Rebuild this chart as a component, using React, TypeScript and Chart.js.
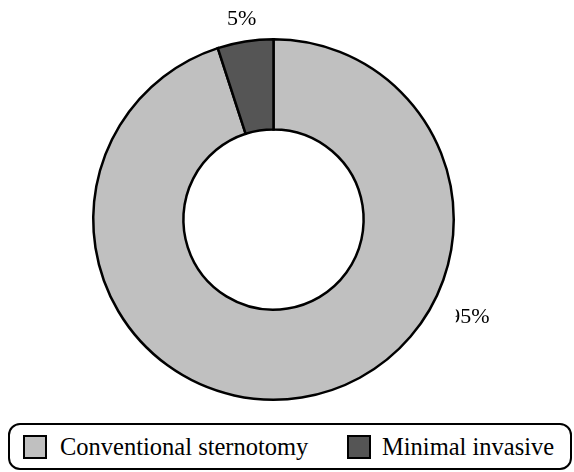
import React, { useEffect, useRef } from "react";
import { Chart, registerables } from "chart.js";

Chart.register(...registerables);

const categories = ["Conventional sternotomy", "Minimal invasive"];
const values = [95, 5];
const percentLabels = ["95%", "5%"];
const colors = ["#c0c0c0", "#555555"];

const FONT = "'Liberation Serif', 'DejaVu Serif'";

const labelPlugin = {
  id: "pctLabels",
  afterDatasetsDraw(chart: any) {
    const meta = chart.getDatasetMeta(0);
    const ctx = chart.ctx;
    const total = values.reduce((a, b) => a + b, 0);
    ctx.save();
    ctx.font = `22px ${FONT}`;
    ctx.fillStyle = "#000";
    ctx.textAlign = "center";
    ctx.textBaseline = "middle";
    meta.data.forEach((arc: any, i: number) => {
      const p = arc.getProps(["x", "y", "startAngle", "endAngle", "outerRadius"], true);
      const frac = values[i] / total;
      let angle: number;
      let r: number;
      ctx.save();
      if (frac > 0.5) {
        angle = -Math.PI / 2 + (116.4 * Math.PI) / 180;
        r = p.outerRadius + 38.5;
        ctx.beginPath();
        ctx.rect(p.x + p.outerRadius + 2, 0, chart.width, chart.height);
        ctx.clip();
      } else {
        angle = (p.startAngle + p.endAngle) / 2;
        r = p.outerRadius + 23;
      }
      ctx.fillText(percentLabels[i], p.x + Math.cos(angle) * r, p.y + Math.sin(angle) * r);
      ctx.restore();
    });
    ctx.restore();
  },
};

export default function App() {
  const ref = useRef<HTMLCanvasElement>(null);
  useEffect(() => {
    document.body.style.margin = "0";
    const chart = new Chart(ref.current!, {
      type: "doughnut",
      data: {
        labels: categories,
        datasets: [
          {
            data: values,
            backgroundColor: colors,
            borderColor: "#000",
            borderWidth: 2.5,
            borderJoinStyle: "miter",
          } as any,
        ],
      },
      options: {
        animation: false,
        responsive: false,
        cutout: "50%",
        layout: { padding: { top: 38, bottom: 19, left: 0, right: 27 } },
        plugins: { legend: { display: false }, tooltip: { enabled: false } },
      },
      plugins: [labelPlugin],
    });
    return () => chart.destroy();
  }, []);

  return (
    <div style={{ position: "relative", width: 574, height: 472, background: "#fff", fontFamily: FONT }}>
      <canvas ref={ref} width={574} height={420} style={{ display: "block" }} />
      <div
        style={{
          position: "absolute",
          left: 8,
          top: 423,
          width: 564,
          height: 47,
          boxSizing: "border-box",
          border: "2px solid #000",
          borderRadius: 12,
        }}
      >
        {categories.map((c, i) => (
          <div
            key={c}
            style={{
              position: "absolute",
              left: i === 0 ? 13 : 337,
              top: 0,
              height: 43,
              display: "flex",
              alignItems: "center",
            }}
          >
            <div
              style={{
                width: 24,
                height: 24,
                boxSizing: "border-box",
                border: "2px solid #000",
                background: colors[i],
                marginRight: i === 0 ? 13 : 11,
              }}
            />
            <span style={{ fontSize: 24.5, lineHeight: "26px", color: "#000", fontFamily: FONT, whiteSpace: "nowrap" }}>{c}</span>
          </div>
        ))}
      </div>
    </div>
  );
}
